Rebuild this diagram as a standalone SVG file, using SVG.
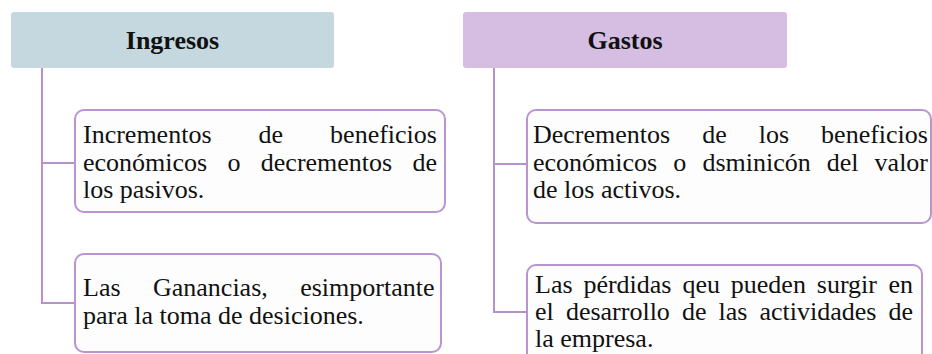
<svg xmlns="http://www.w3.org/2000/svg" width="932" height="354" viewBox="0 0 932 354">
<style>
.hdr{font-family:'Liberation Serif',Tinos,'Times New Roman',Times,'DejaVu Serif',serif;font-weight:bold;font-size:26px;fill:#111;text-anchor:middle}
.txt{font-family:'Liberation Serif',Tinos,'Times New Roman',Times,'DejaVu Serif',serif;font-size:26px;fill:#111}
.box{fill:#fdfdfd;stroke:#b895d0;stroke-width:2}
.conn{fill:none;stroke:#b692cc;stroke-width:2}
</style>
<rect width="932" height="354" fill="#ffffff"/>
<g id="connectors">
<path class="conn" d="M42,68 V303 H75 M42,163 H75"/>
<path class="conn" d="M494,68 V312 H527 M494,164 H527"/>
</g>
<g id="ingresos">
<rect x="11" y="12" width="323" height="56" rx="3" fill="#c6d8df"/>
<text class="hdr" x="172.5" y="49" font-family="Liberation Serif, serif">Ingresos</text>
</g>
<g id="gastos">
<rect x="463" y="12" width="324" height="56" rx="3" fill="#d5bee1"/>
<text class="hdr" x="625" y="49" font-family="Liberation Serif, serif">Gastos</text>
</g>
<g id="ingresos-1">
<rect class="box" x="75" y="110" width="370" height="102" rx="9"/>
<text class="txt" y="143"><tspan x="83">Incrementos</tspan><tspan x="258.5">de</tspan><tspan x="330.1">beneficios</tspan></text>
<text class="txt" y="170.5"><tspan x="83">económicos</tspan><tspan x="227.5">o</tspan><tspan x="260.8">decrementos</tspan><tspan x="412.5">de</tspan></text>
<text class="txt" y="198"><tspan x="83">los pasivos.</tspan></text>
</g>
<g id="ingresos-2">
<rect class="box" x="75" y="254" width="366" height="98" rx="9"/>
<text class="txt" y="296"><tspan x="83">Las</tspan><tspan x="153">Ganancias,</tspan><tspan x="300.2">esimportante</tspan></text>
<text class="txt" y="323.5"><tspan x="83">para la toma de desiciones.</tspan></text>
</g>
<g id="gastos-1">
<rect class="box" x="527" y="110" width="404" height="113" rx="9"/>
<text class="txt" y="143"><tspan x="533">Decrementos</tspan><tspan x="702.2">de</tspan><tspan x="758.7">los</tspan><tspan x="821.1">beneficios</tspan></text>
<text class="txt" y="170.5"><tspan x="533">económicos</tspan><tspan x="673.3">o</tspan><tspan x="702.4">dsminicón</tspan><tspan x="826.8">del</tspan><tspan x="874.6">valor</tspan></text>
<text class="txt" y="198"><tspan x="533">de los activos.</tspan></text>
</g>
<g id="gastos-2">
<rect class="box" x="527" y="265" width="395" height="100" rx="9"/>
<text class="txt" y="292.5"><tspan x="535">Las</tspan><tspan x="583.4">pérdidas</tspan><tspan x="682.4">qeu</tspan><tspan x="730.8">pueden</tspan><tspan x="816.8">surgir</tspan><tspan x="888.5">en</tspan></text>
<text class="txt" y="319.5"><tspan x="535">el</tspan><tspan x="565.9">desarrollo</tspan><tspan x="682">de</tspan><tspan x="718.6">las</tspan><tspan x="759.5">actividades</tspan><tspan x="888.5">de</tspan></text>
<text class="txt" y="347"><tspan x="535">la empresa.</tspan></text>
</g>
</svg>
